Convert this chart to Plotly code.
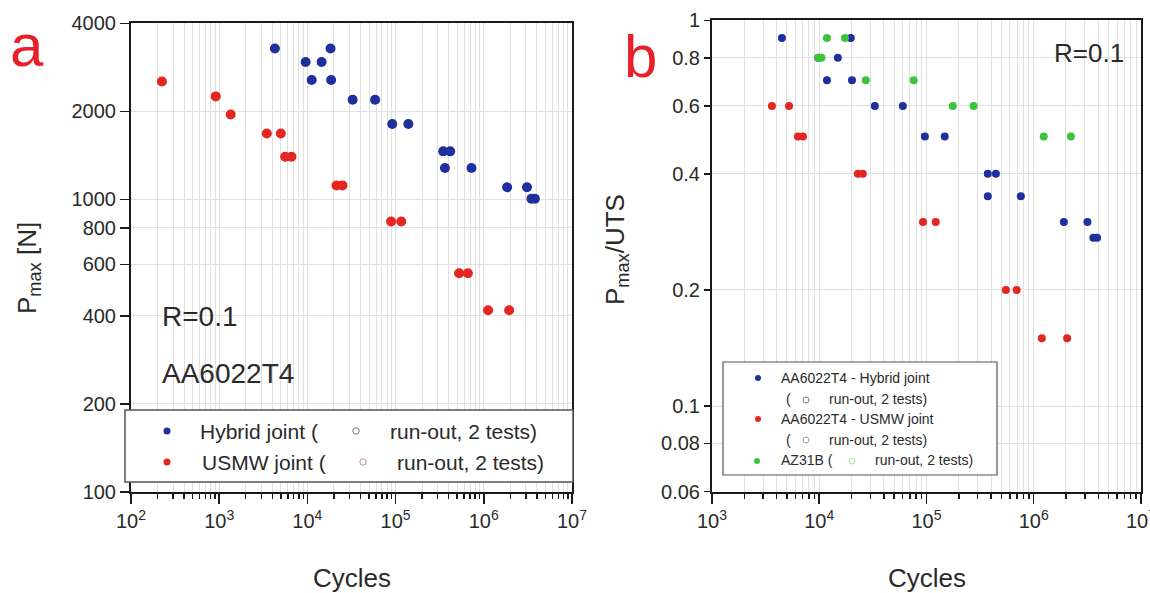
import plotly.graph_objects as go
import math

W, H = 1150, 593

# ---------------- data ----------------
# Panel a: P_max [N] vs cycles
hyb_a_cycles = [4280, 18300, 9550, 14500, 11200, 18600, 32600, 58600, 91700, 139600,
                347000, 416000, 363000, 725000, 1.84e6, 3.09e6, 3.47e6, 3.8e6]
hyb_a_pmax = [3280, 3280, 2950, 2950, 2560, 2560, 2190, 2190, 1810, 1810,
              1460, 1460, 1280, 1280, 1100, 1100, 1005, 1005]
hyb_a_runout_cycles = [4.6e6]
hyb_a_runout_pmax = [917]

usmw_a_cycles = [224, 914, 1350, 3470, 5000, 5600, 6600, 21400, 25000, 89000, 116000,
                 525000, 660000, 1.12e6, 1.94e6]
usmw_a_pmax = [2530, 2250, 1950, 1680, 1680, 1400, 1400, 1117, 1117, 841, 841,
               559, 559, 418, 418]
usmw_a_runout_cycles = [4.6e6]
usmw_a_runout_pmax = [280]

# Panel b: P_max/UTS vs cycles
hyb_b_cycles = [4490, 19700, 9800, 14900, 11800, 20200, 33000, 60200, 96600, 148000,
                373000, 444000, 373000, 758000, 1.91e6, 3.17e6, 3.6e6, 3.9e6]
hyb_b_ratio = [0.9, 0.9, 0.8, 0.8, 0.7, 0.7, 0.6, 0.6, 0.5, 0.5,
               0.4, 0.4, 0.35, 0.35, 0.3, 0.3, 0.273, 0.273]
hyb_b_runout_cycles = [4.78e6]
hyb_b_runout_ratio = [0.248]

usmw_b_cycles = [3620, 5230, 6330, 7050, 22900, 25500, 92800, 122000, 550000, 693000,
                 1.19e6, 2.05e6]
usmw_b_ratio = [0.6, 0.6, 0.5, 0.5, 0.4, 0.4, 0.3, 0.3, 0.2, 0.2, 0.15, 0.15]
usmw_b_runout_cycles = [4.78e6]
usmw_b_runout_ratio = [0.1]

az_b_cycles = [11800, 17400, 9800, 10500, 27200, 76000, 176000, 275000, 1.24e6, 2.22e6]
az_b_ratio = [0.9, 0.9, 0.8, 0.8, 0.7, 0.7, 0.6, 0.6, 0.5, 0.5]
az_b_runout_cycles = [4.78e6]
az_b_runout_ratio = [0.4]

# tick labels
a_x_ticks = [1e2, 1e3, 1e4, 1e5, 1e6, 1e7]
a_x_ticktext = ["10<sup>2</sup>", "10<sup>3</sup>", "10<sup>4</sup>", "10<sup>5</sup>",
                "10<sup>6</sup>", "10<sup>7</sup>"]
a_y_ticks = [100, 200, 400, 600, 800, 1000, 2000, 4000]
a_y_ticktext = ["100", "200", "400", "600", "800", "1000", "2000", "4000"]
b_x_ticks = [1e3, 1e4, 1e5, 1e6, 1e7]
b_x_ticktext = ["10<sup>3</sup>", "10<sup>4</sup>", "10<sup>5</sup>", "10<sup>6</sup>",
                "10<sup>7</sup>"]
b_y_ticks = [0.06, 0.08, 0.1, 0.2, 0.4, 0.6, 0.8, 1]
b_y_ticktext = ["0.06", "0.08", "0.1", "0.2", "0.4", "0.6", "0.8", "1"]

# ---------------- styling ----------------
BLUE = "#1f2f9c"
RED = "#e5251f"
GREEN = "#3cc43c"
FONT = "Arial, Liberation Sans, sans-serif"
TXT = "#2a2a2a"
GRID = "#e0e0e0"


def px(x):
    return x / W


def py(y):
    return 1 - y / H


fig = go.Figure()


def dots(x, y, color, size, xa, ya, name):
    fig.add_trace(go.Scatter(x=x, y=y, mode="markers", name=name, xaxis=xa, yaxis=ya,
                             marker=dict(color=color, size=size, line=dict(width=0)),
                             showlegend=False))


def rings(x, y, color, size, xa, ya, name):
    fig.add_trace(go.Scatter(x=x, y=y, mode="markers", name=name, xaxis=xa, yaxis=ya,
                             marker=dict(color="rgba(0,0,0,0)", size=size, symbol="circle-open",
                                         line=dict(color=color, width=1.3)),
                             showlegend=False))


# panel a
dots(usmw_a_cycles, usmw_a_pmax, RED, 10, "x", "y", "USMW joint")
dots(hyb_a_cycles, hyb_a_pmax, BLUE, 10, "x", "y", "Hybrid joint")
rings(hyb_a_runout_cycles, hyb_a_runout_pmax, "#777777", 8, "x", "y", "Hybrid run-out")
rings(usmw_a_runout_cycles, usmw_a_runout_pmax, "#b89090", 8, "x", "y", "USMW run-out")

# panel b
dots(hyb_b_cycles, hyb_b_ratio, BLUE, 8, "x2", "y2", "AA6022T4 - Hybrid joint")
dots(usmw_b_cycles, usmw_b_ratio, RED, 8, "x2", "y2", "AA6022T4 - USMW joint")
dots(az_b_cycles, az_b_ratio, GREEN, 8, "x2", "y2", "AZ31B")
rings(hyb_b_runout_cycles, hyb_b_runout_ratio, "#777777", 7, "x2", "y2", "Hybrid run-out")
rings(usmw_b_runout_cycles, usmw_b_runout_ratio, "#b89090", 7, "x2", "y2", "USMW run-out")
rings(az_b_runout_cycles, az_b_runout_ratio, "#a8dca8", 7, "x2", "y2", "AZ31B run-out")

minor_a = [m * 10 ** k for k in range(2, 7) for m in range(2, 10)]
minor_b = [m * 10 ** k for k in range(3, 7) for m in range(2, 10)]

common_axis = dict(showline=True, linecolor="#1a1a1a", linewidth=2, mirror=True,
                   ticks="outside", tickcolor="#1a1a1a", tickwidth=1.5,
                   showgrid=True, gridcolor=GRID, gridwidth=1, zeroline=False,
                   automargin=False, ticklabeloverflow="allow")

fig.update_layout(
    template="none",
    width=W, height=H, autosize=False,
    margin=dict(l=0, r=0, t=0, b=0, pad=0),
    paper_bgcolor="white", plot_bgcolor="white",
    font=dict(family=FONT, color=TXT),
    showlegend=False,
    xaxis=dict(type="log", domain=[px(131), px(572)], anchor="y",
               range=[2, 7.0005], tickmode="array", tickvals=a_x_ticks, ticktext=a_x_ticktext,
               ticklen=10, tickfont=dict(size=20),
               minor=dict(tickmode="array", tickvals=minor_a, ticks="outside", ticklen=5,
                          tickcolor="#1a1a1a", showgrid=True, gridcolor=GRID),
               **common_axis),
    yaxis=dict(type="log", domain=[py(492), py(23)], anchor="x",
               range=[2, math.log10(4000) + 0.001], tickmode="array",
               tickvals=a_y_ticks, ticktext=a_y_ticktext, ticklen=9,
               tickfont=dict(size=20), **common_axis),
    xaxis2=dict(type="log", domain=[px(712), px(1141)], anchor="y2",
                range=[3, 7.0005], tickmode="array", tickvals=b_x_ticks, ticktext=b_x_ticktext,
                ticklen=10, tickfont=dict(size=20),
                minor=dict(tickmode="array", tickvals=minor_b, ticks="outside", ticklen=5,
                           tickcolor="#1a1a1a", showgrid=True, gridcolor=GRID),
                **common_axis),
    yaxis2=dict(type="log", domain=[py(492), py(20)], anchor="x2",
                range=[math.log10(0.06) - 0.001, 0.001], tickmode="array",
                tickvals=b_y_ticks, ticktext=b_y_ticktext, ticklen=6,
                tickfont=dict(size=20), **common_axis),
)

shapes = []
ann = []


def text(x, y, s, size, color=TXT, xanchor="left", angle=0):
    ann.append(dict(xref="paper", yref="paper", x=px(x), y=py(y), text=s,
                    showarrow=False, xanchor=xanchor, yanchor="middle", textangle=angle,
                    font=dict(size=size, color=color, family=FONT)))


def disc(x, y, r, fill, line=None):
    shapes.append(dict(type="circle", xref="paper", yref="paper",
                       xsizemode="pixel", ysizemode="pixel",
                       xanchor=px(x), yanchor=py(y), x0=-r, x1=r, y0=-r, y1=r,
                       fillcolor=fill if line is None else "white",
                       line=dict(color=line if line else fill, width=1 if line else 0),
                       layer="above"))


# legend boxes
shapes.append(dict(type="rect", xref="paper", yref="paper", x0=px(125), x1=px(573),
                   y0=py(482), y1=py(410), fillcolor="white",
                   line=dict(color="#555555", width=1.5), layer="above"))
shapes.append(dict(type="rect", xref="paper", yref="paper", x0=px(723), x1=px(997),
                   y0=py(475), y1=py(362), fillcolor="white",
                   line=dict(color="#555555", width=1.2), layer="above"))

# panel a legend
disc(167, 431, 3.5, BLUE)
text(198, 431, "Hybrid joint (", 21)
disc(356, 431, 3.2, None, "#777777")
text(388, 431, "run-out, 2 tests)", 21)
disc(167, 462, 3.5, RED)
text(200, 462, "USMW joint (", 21)
disc(363, 462, 3.2, None, "#b89090")
text(395, 462, "run-out, 2 tests)", 21)

# panel b legend
disc(758, 378, 3, BLUE)
text(779, 378, "AA6022T4 - Hybrid joint", 14)
text(784, 399, "(", 14)
disc(806, 400, 3, None, "#777777")
text(827, 399, "run-out, 2 tests)", 14)
disc(758, 419, 3, RED)
text(779, 419, "AA6022T4 - USMW joint", 14)
text(784, 440, "(", 14)
disc(806, 440, 3, None, "#b89090")
text(827, 440, "run-out, 2 tests)", 14)
disc(757, 461, 3, GREEN)
text(779, 460, "AZ31B (", 14)
disc(852, 461, 3, None, "#a8dca8")
text(873, 460, "run-out, 2 tests)", 14)

# in-plot texts
text(160, 317, "R=0.1", 28)
text(160, 373, "AA6022T4", 28)
text(1052, 53, "R=0.1", 26)

# panel letters
text(27, 46, "a", 60, color="#e8202a", xanchor="center")
text(640, 56, "b", 60, color="#e8202a", xanchor="center")

# axis titles
text(352, 578, "Cycles", 26, xanchor="center")
text(927, 578, "Cycles", 26, xanchor="center")
text(28, 268, "P<sub>max</sub> [N]", 26, xanchor="center", angle=-90)
text(617, 250, "P<sub>max</sub>/UTS", 26, xanchor="center", angle=-90)

fig.update_layout(shapes=shapes, annotations=ann)

fig.write_html("out.html",
               config={"displayModeBar": False, "staticPlot": True},
               post_script="document.body.style.margin='0';document.body.style.padding='0';"
                           "document.documentElement.style.overflow='hidden';")
